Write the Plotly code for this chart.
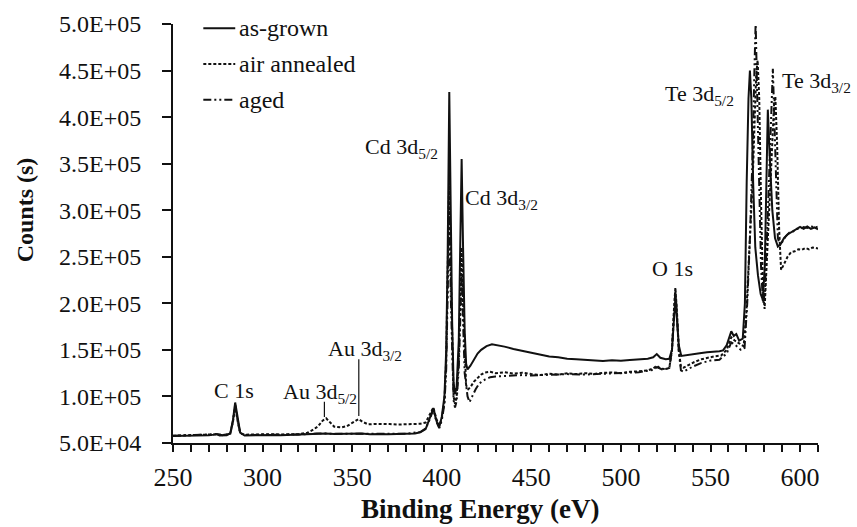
import plotly.graph_objects as go

# ---- XPS survey spectra: binding energy (eV) vs counts ----
energy_as_grown = [
    250, 255, 260, 265, 270, 273, 274.5, 276, 280, 282, 283.5, 284.7, 286, 287.5,
    290, 295, 300, 305, 310, 315, 320, 325, 330, 335, 340, 345, 350, 355, 360,
    365, 370, 375, 380, 385, 388, 391, 393, 395.3, 397, 398.6, 400, 401.5, 402.5,
    403.3, 404.2, 405, 405.8, 406.6, 407.4, 408.3, 409.5, 410.3, 411.1, 411.9,
    412.8, 413.6, 414.4, 416, 418, 420, 422, 425, 428, 431, 435, 440, 445, 450,
    455, 460, 465, 470, 475, 480, 485, 490, 495, 500, 505, 510, 515, 518, 520,
    522, 525, 527, 528.5, 529.5, 530.4, 531.3, 532.3, 533.7, 536, 540, 544, 548,
    552, 555, 557, 559, 561.6, 563, 564.4, 566, 568, 569.2, 570.2, 571.2, 572.0,
    572.8, 573.8, 575, 576.5, 578, 579.2, 580.3, 581.2, 582.0, 583, 584.5, 586,
    587.6, 589, 591, 593, 596, 598, 600, 602, 604, 606, 608, 610,
]
counts_as_grown = [
    57500, 57800, 57300, 57900, 58200, 59000, 59600, 58000, 58300, 60500, 75000, 93500, 76000, 61000,
    58000, 58400, 58100, 58600, 58300, 58800, 58500, 59000, 59800, 60200, 59700, 60000, 59600, 60100, 59400,
    59800, 59300, 59700, 59500, 60200, 61500, 65000, 75000, 87500, 74000, 67000, 78000, 100000, 150000,
    250000, 427000, 300000, 180000, 115000, 102500, 110000, 160000, 260000, 355000, 260000,
    170000, 135000, 129000, 133000, 140000, 146000, 150000, 154000, 156000, 155000, 153500, 151000, 149000, 147000,
    144500, 143000, 142000, 140500, 140000, 139500, 138500, 138200, 138800, 138300, 139200, 139600, 140500, 142000, 145500,
    141500, 140000, 140500, 150000, 180000, 206000, 182000, 155000, 143500, 144000, 145500, 146500, 147500,
    148000, 148500, 149500, 155000, 170000, 165000, 167000, 160000, 162000, 200000, 330000, 420000, 450000,
    420000, 330000, 260000, 230000, 210000, 204000, 240000, 330000, 408000, 360000, 300000, 270000,
    261000, 263000, 270000, 274000, 277500, 279000, 282000, 280000, 282500, 280000, 281500, 279500,
]

energy_air_annealed = [
    250, 255, 260, 265, 270, 274.5, 278, 282, 283.5, 284.7, 286, 287.5, 290, 295,
    300, 305, 310, 315, 320, 325, 328, 331, 333.5, 335.5, 337.5, 340, 344, 347,
    350, 353.5, 356, 359, 363, 367, 371, 375, 380, 385, 388, 391, 393, 395.3,
    397, 398.6, 400, 401.5, 402.5, 403.3, 404.2, 405, 405.8, 406.6, 407.4, 408.3,
    409.5, 410.3, 411.1, 411.9, 412.8, 413.6, 414.8, 416, 418, 420, 422, 424, 427,
    430, 435, 440, 445, 450, 455, 460, 465, 470, 475, 480, 485, 490, 495, 500,
    505, 510, 515, 518, 520, 522, 525, 527, 528.5, 529.5, 530.4, 531.3, 532.3,
    533.5, 535, 538, 541, 545, 548, 552, 556, 559, 561.6, 563.5, 566, 568.5, 570,
    571.5, 572.5, 573.5, 574.5, 575.5, 576.3, 577.2, 578.3, 579.3, 580.2, 581.2,
    582.5, 583.5, 584.5, 585.5, 586.2, 587.2, 588.3, 589.4, 591, 593, 595, 597,
    599, 601, 603, 605, 607, 610,
]
counts_air_annealed = [
    57800, 58100, 57700, 58300, 58600, 59300, 58500, 60000, 73000, 90000, 74000, 60500, 58900, 59300,
    59100, 59500, 59200, 59700, 59400, 61000, 64000, 68000, 74000, 76500, 72000, 67500, 66800, 68000,
    71500, 75700, 72500, 70000, 70500, 70000, 70300, 69800, 70200, 70000, 70600, 72000, 80000, 88000,
    76000, 69000, 76000, 95000, 140000, 220000, 340000, 240000, 150000, 100000, 92000, 100000,
    140000, 200000, 260000, 200000, 140000, 112000, 107800, 110000, 116000, 120000, 123500, 125700, 126500,
    125000, 126000, 124500, 125500, 124000, 123000, 124500, 123500, 124800, 124000, 125000, 124200, 125300, 125800, 125000,
    126500, 127000, 128000, 130000, 133000, 130000, 129500, 130500, 150000, 190000, 217000, 190000, 150000,
    132000, 131000, 134000, 137000, 140000, 141500, 143000, 144000, 150000, 163500, 160000, 157000, 154000, 190000,
    260000, 290000, 330000, 400000, 445000, 461000, 420000, 300000, 215000, 194000, 230000,
    290000, 330000, 380000, 415000, 422000, 370000, 280000, 236000, 242000, 250000, 255000, 256000,
    258000, 257500, 259500, 258000, 260000, 259000,
]

energy_aged = [
    250, 255, 260, 265, 270, 274.5, 278, 282, 283.5, 284.7, 286, 287.5, 290, 300,
    310, 320, 330, 340, 350, 360, 370, 380, 388, 391, 393, 395.3, 397, 398.6,
    400, 401.5, 402.5, 403.3, 404.2, 405, 405.8, 406.6, 407.4, 408.3, 409.5, 410.3,
    411.1, 411.9, 412.8, 414.4, 415.5, 417, 419, 421, 424, 427, 430, 435, 440, 445,
    450, 460, 470, 480, 490, 500, 510, 518, 520, 523, 527, 528.5, 529.5, 530.4,
    531.3, 532.3, 533.5, 535, 540, 545, 550, 555, 559, 561.6, 564, 567, 569, 570.5,
    572, 573.5, 574.5, 575.2, 576, 577, 578.2, 579.3, 580.3, 581.5, 583, 584, 584.8,
    585.6, 586.6, 587.6, 588.8, 590, 592, 594, 596, 598, 600, 602, 604, 606, 608, 610,
]
counts_aged = [
    57900, 58200, 57800, 58400, 58500, 59400, 58400, 60200, 74000, 91000, 75000, 61000, 58600, 58700,
    58900, 59100, 60100, 60000, 59900, 59800, 59700, 59900, 61800, 65500, 74000, 86000, 73000, 66000,
    74000, 92000, 130000, 200000, 300000, 210000, 135000, 96000, 88000, 95000, 130000, 180000,
    230000, 180000, 125000, 100000, 93900, 100000, 108000, 114000, 118000, 120700, 121500, 122000, 122500, 123000,
    122500, 123000, 124000, 123500, 124500, 124800, 126000, 128500, 131500, 129000, 130000, 150000, 188000, 214000,
    188000, 148000, 128000, 126500, 132000, 136000, 138500, 139500, 146000, 158000, 155000, 150000, 152000, 200000,
    270000, 360000, 450000, 502000, 430000, 330000, 240000, 200000, 210000, 270000, 350000, 410000, 452000,
    400000, 320000, 270000, 262000, 266000, 272000, 276000, 277000, 280000, 279500, 282000, 281000, 283000, 281000, 282500,
]

# ---- axis ticks ----
y_tick_values = [50000, 100000, 150000, 200000, 250000, 300000, 350000, 400000, 450000, 500000]
y_tick_labels = ["5.0E+04", "1.0E+05", "1.5E+05", "2.0E+05", "2.5E+05",
                 "3.0E+05", "3.5E+05", "4.0E+05", "4.5E+05", "5.0E+05"]
x_tick_values = [250, 300, 350, 400, 450, 500, 550, 600]

# ---- legend entries ----
series_names = ["as-grown", "air annealed", "aged"]
series_dashes = ["solid", "3px,2px", "8px,3px,2px,3px,2px,3px"]

SERIF = "Liberation Serif"
INK = "#111111"

fig = go.Figure()
for name, xs, ys, dash in zip(
    series_names,
    [energy_as_grown, energy_air_annealed, energy_aged],
    [counts_as_grown, counts_air_annealed, counts_aged],
    series_dashes,
):
    fig.add_trace(go.Scatter(
        x=xs, y=ys, mode="lines", name=name,
        line=dict(color=INK, width=2, dash=dash),
        showlegend=False,
    ))

# Hand-placed legend (sample line + label per row, evenly spaced)
legend_rows_y = [0.990, 0.9045, 0.819]
for name, dash, ry in zip(series_names, series_dashes, legend_rows_y):
    fig.add_shape(type="line", xref="paper", yref="paper",
                  x0=0.047, x1=0.0965, y0=ry, y1=ry,
                  line=dict(color=INK, width=2, dash=dash))
    fig.add_annotation(xref="paper", yref="paper", x=0.099, y=ry,
                       text=name, showarrow=False, xanchor="left", yanchor="middle",
                       font=dict(family=SERIF, size=24, color=INK))

# Peak labels
peak_labels = [
    ("C 1s", 284.2, 106800),
    ("Au 3d<sub>5/2</sub>", 332.0, 104000),
    ("Au 3d<sub>3/2</sub>", 357.2, 150000),
    ("Cd 3d<sub>5/2</sub>", 377.5, 367000),
    ("Cd 3d<sub>3/2</sub>", 433.6, 312500),
    ("O 1s", 528.9, 237400),
    ("Te 3d<sub>5/2</sub>", 543.6, 424000),
    ("Te 3d<sub>3/2</sub>", 608.9, 438000),
]
for text, lx, ly in peak_labels:
    fig.add_annotation(x=lx, y=ly, text=text, showarrow=False,
                       xanchor="center", yanchor="middle",
                       font=dict(family=SERIF, size=22, color=INK))

# Leader lines for the Au peaks
for x0, y0, y1 in [(334.5, 77800, 94200), (353.7, 78900, 140000)]:
    fig.add_shape(type="line", xref="x", yref="y", x0=x0, x1=x0, y0=y0, y1=y1,
                  line=dict(color=INK, width=1.2))

# Axis titles
fig.add_annotation(xref="paper", yref="paper", x=-0.229, y=0.556,
                   xanchor="center", yanchor="middle",
                   text="<b>Counts (s)</b>", textangle=-90, showarrow=False,
                   font=dict(family=SERIF, size=24, color=INK))
fig.add_annotation(xref="paper", yref="paper", x=0.476, y=-0.158,
                   xanchor="center", yanchor="middle",
                   text="<b>Binding Energy (eV)</b>", showarrow=False,
                   font=dict(family=SERIF, size=27, color=INK))

fig.update_layout(
    width=857, height=527,
    margin=dict(l=173, r=39, t=24, b=84),
    paper_bgcolor="white", plot_bgcolor="white",
    font=dict(family=SERIF, color=INK),
)
fig.update_xaxes(
    range=[250, 610], tickvals=x_tick_values,
    showline=True, linecolor=INK, linewidth=2,
    ticks="outside", ticklen=7, tickwidth=1.5, tickcolor=INK,
    minor=dict(dtick=10, tick0=250, ticks="outside", ticklen=7, tickwidth=1.5, tickcolor=INK),
    showgrid=False, zeroline=False,
    tickfont=dict(family=SERIF, size=26, color=INK),
    ticklabelstandoff=3,
)
fig.update_yaxes(
    range=[50000, 500000], tickvals=y_tick_values, ticktext=y_tick_labels,
    showline=True, linecolor=INK, linewidth=2,
    ticks="outside", ticklen=9, tickwidth=1.5, tickcolor=INK,
    showgrid=False, zeroline=False,
    tickfont=dict(family=SERIF, size=24, color=INK),
    ticklabelstandoff=16,
)

fig.write_html("out.html")
